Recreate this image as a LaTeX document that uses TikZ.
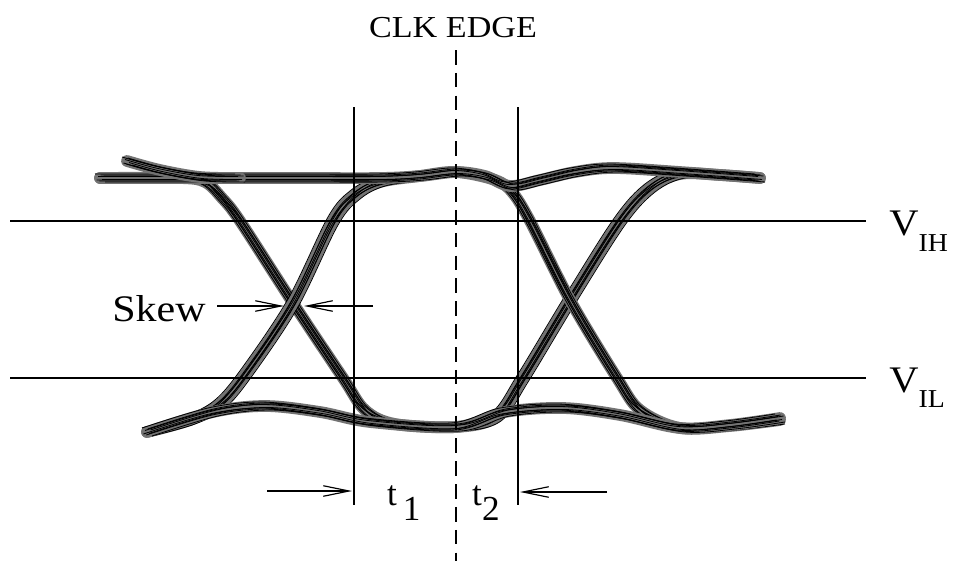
\documentclass[tikz,border=0pt]{standalone}
\usepackage{fontspec}
\setmainfont{Liberation Serif}
\usetikzlibrary{arrows.meta}
\newcommand\eyewave[1]{%
  \draw[waveback] plot[smooth,tension=.55] coordinates {#1};
  \foreach \dx/\dy in {-5/-4,-3.5/2,-2/-1.5,-0.7/3,0.7/-3,2/1.5,3.5/-2,5/4}{%
    \draw[wave,shift={(\dx,\dy)}] plot[smooth,tension=.55] coordinates {#1};}%
}
\begin{document}
\begin{tikzpicture}[x=0.03cm,y=-0.03cm,
  guide/.style={line width=1.3pt,black},
  clkline/.style={line width=1.5pt,dash pattern=on 12.5pt off 7pt},
  wave/.style={line width=0.7pt,black},
  waveback/.style={line width=10pt,black!55,line cap=round},
  barb/.style={line width=1.2pt,-{Straight Barb[length=22pt,width=9pt,line width=1pt]}},
  lbl/.style={inner sep=0pt,font=\fontsize{29}{29}\selectfont}]
\useasboundingbox (0,0) rectangle (954,561);
% eye traces
\eyewave{(100,178) (180,178) (205,182) (222,198) (240,221) (293,303) (343,378) (365,410) (395,424) (456,427) (496,417) (523,378) (570,300) (620,221) (650,188) (680,174) (720,175) (760,178)}
\eyewave{(147,432) (190,420) (220,404) (247,372) (293,303) (333,221) (355,195) (380,182) (420,176) (456,172) (495,180) (512,192) (530,221) (570,300) (617,378) (640,410) (680,428) (730,426) (780,420)}
\eyewave{(100,178) (200,178) (300,178) (380,178) (420,176) (456,172) (485,176) (510,186) (540,180) (575,172) (613,168) (680,172) (760,178)}
\eyewave{(147,432) (213,412) (265,406) (320,412) (370,422) (456,427) (505,412) (563,408) (620,415) (680,428) (730,425) (780,418)}
\eyewave{(127,161) (160,170) (200,177) (240,178)}
% reference lines
\coordinate (ihL) at (10,221); \coordinate (ihR) at (866,221);
\coordinate (ilL) at (10,378); \coordinate (ilR) at (866,378);
\draw[guide] (ihL) -- (ihR);
\draw[guide] (ilL) -- (ilR);
\coordinate (s1T) at (354,107); \coordinate (s1B) at (354,505);
\coordinate (s2T) at (518,107); \coordinate (s2B) at (518,505);
\draw[guide] (s1T) -- (s1B);
\draw[guide] (s2T) -- (s2B);
\coordinate (clkT) at (456,50); \coordinate (clkB) at (456,561);
\draw[clkline] (clkT) -- (clkB);
% labels
\node[lbl,font=\fontsize{26}{26}\selectfont,xscale=1.12,anchor=base] (clk) at (453,37) {CLK EDGE};
\node[lbl,font=\fontsize{32}{32}\selectfont,xscale=1.12,anchor=base] (skew) at (159,321) {Skew};
\node[lbl,font=\fontsize{32}{32}\selectfont,xscale=1.08,anchor=base west] (vih) at (889,235) {V\raisebox{-14.5pt}{\fontsize{22}{22}\selectfont IH}};
\node[lbl,font=\fontsize{32}{32}\selectfont,xscale=1.08,anchor=base west] (vil) at (889,392) {V\raisebox{-13pt}{\fontsize{22}{22}\selectfont IL}};
\node[lbl,font=\fontsize{30}{30}\selectfont,anchor=base west] (t1) at (387,505) {t\,\raisebox{-12.8pt}{1}};
\node[lbl,font=\fontsize{30}{30}\selectfont,anchor=base west] (t2) at (472,505) {t\raisebox{-12.8pt}{2}};
% arrows
\coordinate (skA) at (217,306); \coordinate (skAt) at (284,306);
\coordinate (skB) at (373,306); \coordinate (skBt) at (304,306);
\draw[barb] (skA) -- (skAt);
\draw[barb] (skB) -- (skBt);
\coordinate (tA) at (267,491); \coordinate (tAt) at (352,491);
\coordinate (tB) at (607,492); \coordinate (tBt) at (520,492);
\draw[barb] (tA) -- (tAt);
\draw[barb] (tB) -- (tBt);
\end{tikzpicture}
\end{document}
